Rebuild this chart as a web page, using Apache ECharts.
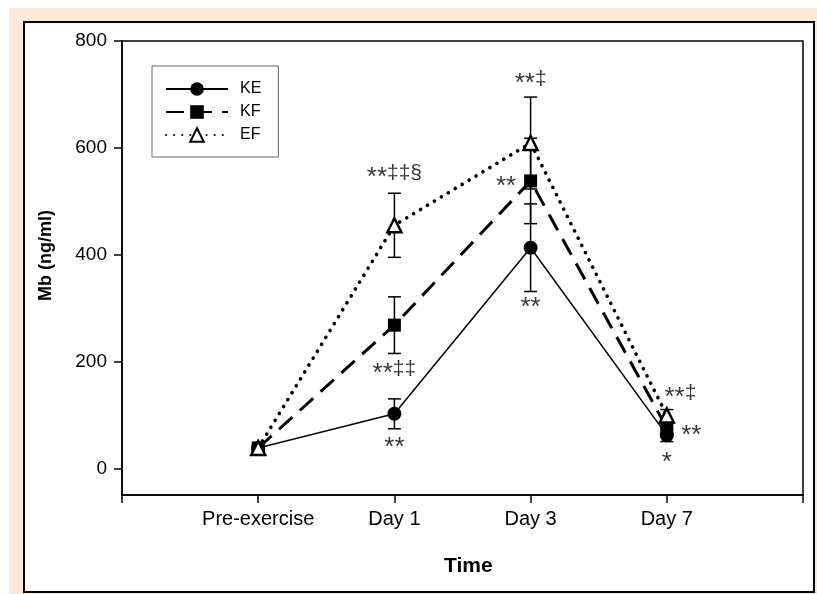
<!DOCTYPE html>
<html>
<head>
<meta charset="utf-8">
<script src="https://cdn.jsdelivr.net/npm/echarts@6/dist/echarts.min.js"></script>
<style>
  html, body { margin: 0; padding: 0; background: #ffffff; }
  #bg { position: absolute; left: 9px; top: 8px; width: 808px; height: 586px; background: #fbe9dc; }
  #box { position: absolute; left: 23px; top: 21px; width: 788px; height: 568px; background: #ffffff; border: 2px solid #000; }
  #chart { position: absolute; left: 0; top: 0; width: 817px; height: 594px; }
</style>
</head>
<body>
<div id="bg"></div>
<div id="box"></div>
<div id="chart"></div>
<script>
// Categories (x positions 1..4)
const categories = ['Pre-exercise', 'Day 1', 'Day 3', 'Day 7'];
const yTicks = [0, 200, 400, 600, 800];

// Means
const keMean = [38, 102, 413, 62];
const kfMean = [38, 268, 538, 76];
const efMean = [38, 455, 609, 99];
// Error (± SE)
const keErr = [4, 28, 82, 12];
const kfErr = [4, 53, 80, 12];
const efErr = [4, 60, 86, 11];

// Significance annotations
const annoText = ['**\u2021\u2021\u00a7', '**\u2021\u2021', '**', '**\u2021', '**', '**', '**\u2021', '**', '*'];
const annoX    = [2, 2, 2, 3, 2.82, 3, 4.1, 4.18, 4];
const annoY    = [552, 185, 45, 728, 535, 307, 140, 68, 18];

const chart = echarts.init(document.getElementById('chart'), null, { renderer: 'canvas' });

function pts(mean) { return mean.map((v, i) => [i + 1, v]); }
function errData(mean, err) { return mean.map((v, i) => [i + 1, v - err[i], v + err[i]]); }

function errSeries(mean, err) {
  return {
    type: 'custom',
    z: 5,
    silent: true,
    data: errData(mean, err),
    renderItem: function (params, api) {
      const x = api.value(0);
      const lo = api.coord([x, api.value(1)]);
      const hi = api.coord([x, api.value(2)]);
      const hw = 6.5;
      const st = { stroke: '#000', lineWidth: 1.5 };
      return {
        type: 'group',
        children: [
          { type: 'line', shape: { x1: lo[0], y1: lo[1], x2: hi[0], y2: hi[1] }, style: st },
          { type: 'line', shape: { x1: lo[0] - hw, y1: lo[1], x2: lo[0] + hw, y2: lo[1] }, style: st },
          { type: 'line', shape: { x1: hi[0] - hw, y1: hi[1], x2: hi[0] + hw, y2: hi[1] }, style: st }
        ]
      };
    }
  };
}

const font = 'Liberation Sans, Arial, sans-serif';

function annoFormat(p) {
  const t = p.name;
  const m = t.match(/^(\*+)(.*)$/);
  if (!m) return t;
  return '{s|' + m[1] + '}' + (m[2] ? '{d|' + m[2] + '}' : '');
}

const option = {
  animation: false,
  textStyle: { fontFamily: font },
  grid: { left: 122, top: 41, right: 14, bottom: 99, show: true, borderColor: '#000', borderWidth: 1.5, backgroundColor: 'transparent' },
  xAxis: {
    type: 'value', min: 0, max: 5,
    axisLine: { show: true, onZero: false, lineStyle: { color: '#000', width: 1.5 } },
    axisTick: { show: true, length: 8, customValues: [0, 1, 2, 3, 4, 5], lineStyle: { color: '#000', width: 1.5 } },
    axisLabel: { customValues: [1, 2, 3, 4], formatter: v => categories[Math.round(v) - 1] || '', color: '#000', fontSize: 20, margin: 14, fontFamily: font },
    splitLine: { show: false }
  },
  yAxis: {
    type: 'value', min: -50, max: 800,
    axisLine: { show: true, onZero: false, lineStyle: { color: '#000', width: 1.5 } },
    axisTick: { show: true, length: 8, customValues: yTicks, lineStyle: { color: '#000', width: 1.5 } },
    axisLabel: { customValues: yTicks, color: '#000', fontSize: 19, margin: 15, fontFamily: font },
    splitLine: { show: false }
  },
  legend: {
    orient: 'vertical', left: 152, top: 66,
    padding: [15, 17, 14, 13],
    itemWidth: 62, itemHeight: 17, itemGap: 7, itemTextGap: 5,
    backgroundColor: '#fff', borderColor: '#666', borderWidth: 1, borderRadius: 0,
    textStyle: { color: '#000', fontSize: 16, fontFamily: font, padding: [0, 0, 0, 7] },
    data: ['KE', 'KF', 'EF']
  },
  graphic: [
    { type: 'text', left: 37, top: 210, rotation: Math.PI / 2, originX: 0, originY: 0,
      style: { text: 'Mb (ng/ml)', fontSize: 18, fontWeight: 'bold', fill: '#000', fontFamily: font } },
    { type: 'text', left: 444, top: 556,
      style: { text: 'Time', fontSize: 21, fontWeight: 'bold', fill: '#000', fontFamily: font } }
  ],
  series: [
    {
      name: 'KE', type: 'line', data: pts(keMean), z: 6,
      symbol: 'circle', symbolSize: 14,
      itemStyle: { color: '#000' },
      lineStyle: { color: '#000', width: 1.5, type: 'solid' }
    },
    {
      name: 'KF', type: 'line', data: pts(kfMean), z: 6,
      symbol: 'rect', symbolSize: 13,
      itemStyle: { color: '#000' },
      lineStyle: { color: '#000', width: 3, type: [18, 10] }
    },
    {
      name: 'EF', type: 'line', data: pts(efMean), z: 6,
      symbol: 'triangle', symbolSize: 14,
      itemStyle: { color: '#fff', borderColor: '#000', borderWidth: 2.5 },
      lineStyle: { color: '#000', width: 3.6, type: [0.1, 8], cap: 'round' }
    },
    errSeries(keMean, keErr),
    errSeries(kfMean, kfErr),
    errSeries(efMean, efErr),
    {
      type: 'scatter', silent: true, z: 8,
      symbolSize: 0,
      data: annoText.map((t, i) => ({ name: t, value: [annoX[i], annoY[i]] })),
      label: {
        show: true, position: 'inside', formatter: annoFormat, color: '#000', fontFamily: font,
        rich: {
          s: { fontSize: 26, fontFamily: font, color: '#000', padding: [8, 0, 0, 0] },
          d: { fontSize: 21, fontFamily: font, color: '#000' }
        }
      }
    }
  ]
};
chart.setOption(option);
</script>
</body>
</html>
